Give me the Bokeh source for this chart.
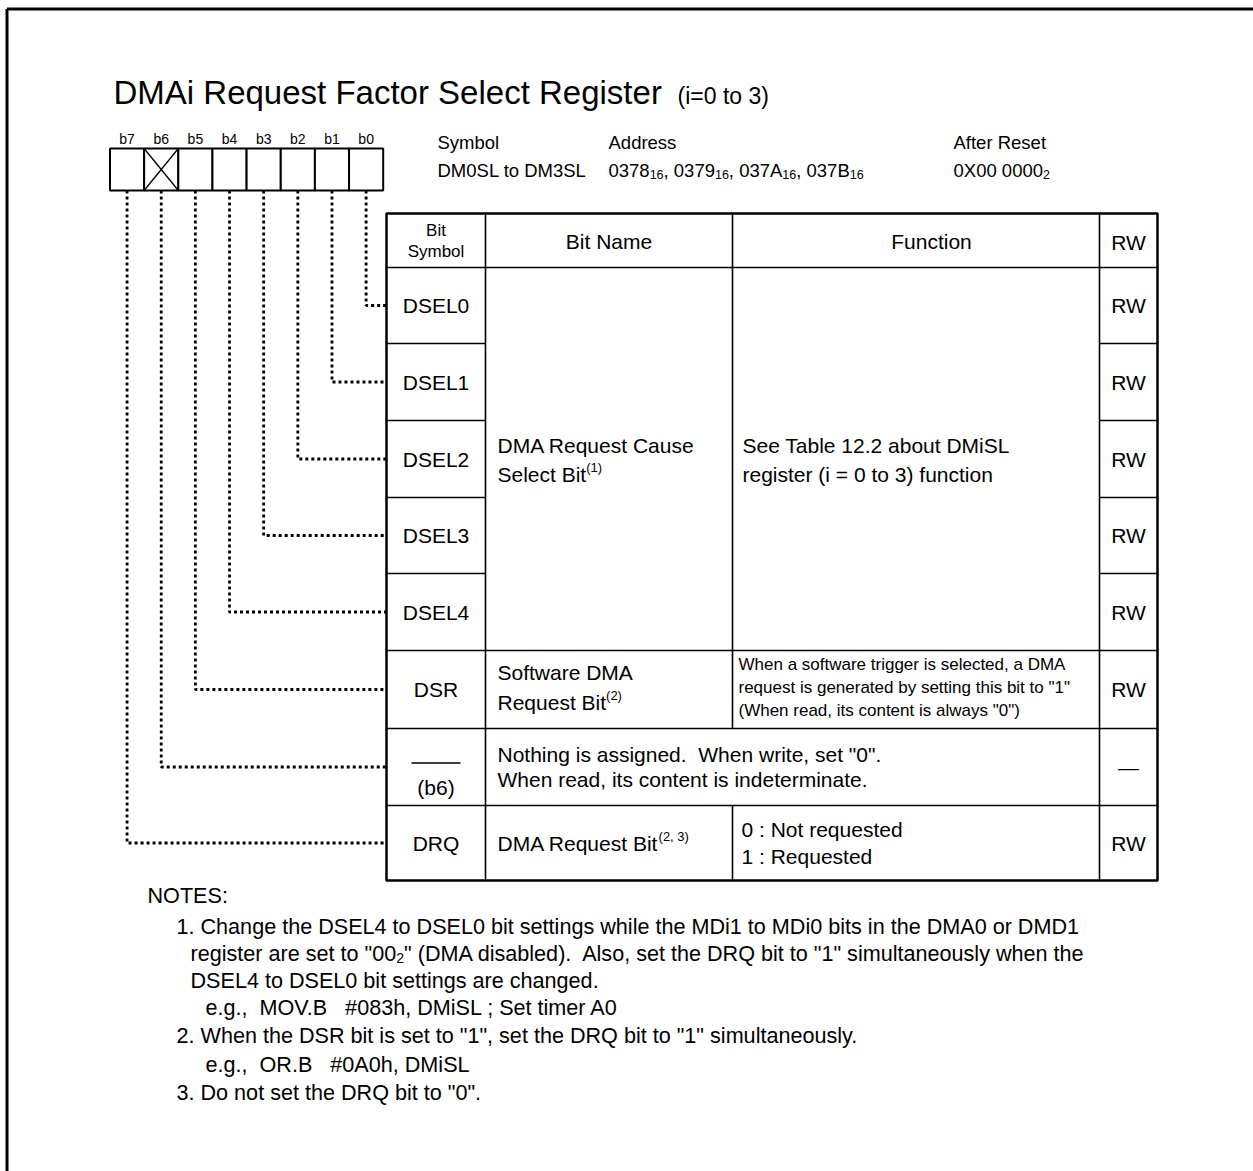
from bokeh.plotting import figure
from bokeh.models import ColumnDataSource, Range1d
from bokeh.core.properties import value
from bokeh.embed import file_html
from bokeh.resources import INLINE

FONT = "Liberation Sans"
W, H = 1253, 1171
NB = "\u00a0"

# ---------------- data ----------------
title = "DMAi Request Factor Select Register"
title_suffix = "(i=0 to 3)"
bit_labels = ["b7", "b6", "b5", "b4", "b3", "b2", "b1", "b0"]
reserved_bits = ["b6"]
info_headers = ["Symbol", "Address", "After Reset"]
register_symbol = "DM0SL to DM3SL"
addresses = ["0378", "0379", "037A", "037B"]
address_radix = "16"
reset_value = "0X00 0000"
reset_radix = "2"

col_headers = ["Bit Name", "Function", "RW"]
bit_symbols = ["DSEL0", "DSEL1", "DSEL2", "DSEL3", "DSEL4", "DSR", "(b6)", "DRQ"]
source_bits = ["b0", "b1", "b2", "b3", "b4", "b5", "b6", "b7"]
rw_values = ["RW", "RW", "RW", "RW", "RW", "RW", "\u2014", "RW"]

dsel_name = ["DMA Request Cause", "Select Bit"]
dsel_name_note = "(1)"
dsel_function = ["See Table 12.2 about DMiSL", "register (i = 0 to 3) function"]
dsr_name = ["Software DMA", "Request Bit"]
dsr_name_note = "(2)"
dsr_function = ["When a software trigger is selected, a DMA",
                "request is generated by setting this bit to \"1\"",
                "(When read, its content is always \"0\")"]
b6_text = ["Nothing is assigned." + NB + " When write, set \"0\".",
           "When read, its content is indeterminate."]
drq_name = "DMA Request Bit"
drq_name_note = "(2, 3)"
drq_function = ["0 : Not requested", "1 : Requested"]

notes_title = "NOTES:"
note1 = ["1. Change the DSEL4 to DSEL0 bit settings while the MDi1 to MDi0 bits in the DMA0 or DMD1",
         ("register are set to \"00", "2", "\" (DMA disabled)." + NB + " Also, set the DRQ bit to \"1\" simultaneously when the"),
         "DSEL4 to DSEL0 bit settings are changed.",
         "e.g.," + NB + " MOV.B" + NB * 2 + " #083h, DMiSL ; Set timer A0"]
note2 = ["2. When the DSR bit is set to \"1\", set the DRQ bit to \"1\" simultaneously.",
         "e.g.," + NB + " OR.B" + NB * 2 + " #0A0h, DMiSL"]
note3 = ["3. Do not set the DRQ bit to \"0\"."]

# ---------------- layout ----------------
box_left, box_w, box_top, box_bot = 109.5, 34.15, 148, 190
col_edges = [386, 485, 732, 1099, 1157]
table_top, header_bot = 213, 267
row_heights = [76, 77, 77, 76, 77, 78, 77, 75]

AW = {' ': 278, NB: 278, '!': 278, '"': 355, '#': 556, '(': 333, ')': 333, ',': 278, '-': 333, '.': 278,
      ':': 278, ';': 278, '=': 584, '\u2014': 1000,
      'A': 667, 'B': 667, 'C': 722, 'D': 722, 'E': 667, 'F': 611, 'G': 778, 'H': 722, 'I': 278,
      'J': 500, 'K': 667, 'L': 556, 'M': 833, 'N': 722, 'O': 778, 'P': 667, 'Q': 778, 'R': 722,
      'S': 667, 'T': 611, 'U': 722, 'V': 667, 'W': 944, 'X': 667, 'Y': 667, 'Z': 611,
      'a': 556, 'b': 556, 'c': 500, 'd': 556, 'e': 556, 'f': 278, 'g': 556, 'h': 556, 'i': 222,
      'j': 222, 'k': 500, 'l': 222, 'm': 833, 'n': 556, 'o': 556, 'p': 556, 'q': 556, 'r': 333,
      's': 500, 't': 278, 'u': 556, 'v': 500, 'w': 722, 'x': 500, 'y': 500, 'z': 500}
for d in "0123456789":
    AW[d] = 556


def tw(s, size):
    return sum(AW.get(c, 556) for c in s) * size / 1000.0


left_t = dict(x=[], y=[], text=[], size=[])
center_t = dict(x=[], y=[], text=[], size=[])


def put(x, y, text, size, align="left"):
    t = left_t if align == "left" else center_t
    t["x"].append(x)
    t["y"].append(y)
    t["text"].append(text)
    t["size"].append(f"{size}px")


def put_runs(x, y, parts, align="left"):
    total = sum(tw(s, sz) for s, sz, dy in parts)
    if align == "center":
        x -= total / 2
    for s, sz, dy in parts:
        put(x, y + dy, s, sz)
        x += tw(s, sz)


p = figure(width=W, height=H, x_range=Range1d(0, W), y_range=Range1d(H, 0),
           output_backend="svg", toolbar_location=None, min_border=0,
           x_axis_type=None, y_axis_type=None, outline_line_color=None)
p.grid.visible = False
p.background_fill_color = "white"
p.border_fill_color = "white"

# outer frame (top and left edges visible)
p.multi_line(xs=[[6.5, W + 5], [6.5, 6.5]], ys=[[8.5, 8.5], [8.5, H + 5]], line_color="black", line_width=3)

# title
put(113, 92, title, 33)
put(677, 92 + 0.35 * (33 - 23), title_suffix, 23)

# bit boxes
n = len(bit_labels)
lefts = [box_left + i * box_w for i in range(n)]
rights = [l + box_w for l in lefts]
centers = [l + box_w / 2 for l in lefts]
p.quad(left=lefts, right=rights, top=[box_top] * n, bottom=[box_bot] * n,
       fill_color="white", line_color="black", line_width=2)
for b in reserved_bits:
    i = bit_labels.index(b)
    p.segment(x0=[lefts[i], lefts[i]], y0=[box_top, box_bot], x1=[rights[i], rights[i]], y1=[box_bot, box_top],
              line_color="black", line_width=1.3)
for i, b in enumerate(bit_labels):
    put(centers[i], 138, b, 14, "center")

# info header
info_x = [437, 608, 953]
for x, s in zip(info_x, info_headers):
    put(x, 142, s, 18.5)
put(info_x[0], 170, register_symbol, 18.5)
parts = []
for k, a in enumerate(addresses):
    parts.append((a, 18.5, 0))
    parts.append((address_radix, 12.5, 3.5))
    if k < len(addresses) - 1:
        parts.append((", ", 18.5, 0))
put_runs(info_x[1], 170, parts)
put_runs(info_x[2], 170, [(reset_value, 18.5, 0), (reset_radix, 12.5, 3.5)])

# table geometry
row_edges = [header_bot]
for h in row_heights:
    row_edges.append(row_edges[-1] + h)
row_centers = [(row_edges[i] + row_edges[i + 1]) / 2 for i in range(len(row_heights))]
x0, x1, x2, x3, x4 = col_edges
table_bot = row_edges[-1]

p.quad(left=[x0], right=[x4], top=[table_top], bottom=[table_bot], fill_color=None,
       line_color="black", line_width=2.5)
sx0, sy0, sx1, sy1 = [], [], [], []


def seg(a, b, c, d):
    sx0.append(a); sy0.append(b); sx1.append(c); sy1.append(d)


seg(x0, header_bot, x4, header_bot)
for i in range(1, 5):  # boundaries between DSEL rows (merged name/function)
    y = row_edges[i]
    seg(x0, y, x1, y)
    seg(x3, y, x4, y)
for i in range(5, 8):
    seg(x0, row_edges[i], x4, row_edges[i])
seg(x1, table_top, x1, table_bot)
seg(x2, table_top, x2, row_edges[6])
seg(x2, row_edges[7], x2, table_bot)
seg(x3, table_top, x3, table_bot)
p.segment(x0=sx0, y0=sy0, x1=sx1, y1=sy1, line_color="black", line_width=1.6)

# header texts
sym_cx = (x0 + x1) / 2
put(sym_cx, 230, "Bit", 17, "center")
put(sym_cx, 251, "Symbol", 17, "center")
put((x1 + x2) / 2, 241, col_headers[0], 21, "center")
put(931, 241, col_headers[1], 21, "center")
put((x3 + x4) / 2, 242, col_headers[2], 21, "center")

# symbol column and RW column
for i, s in enumerate(bit_symbols):
    yc = row_centers[i]
    if s.startswith("(b"):
        p.segment(x0=[411], y0=[yc - 4], x1=[460], y1=[yc - 4], line_color="black", line_width=1.3)
        put(sym_cx, yc + 20, s, 21, "center")
    else:
        put(sym_cx, yc, s, 21, "center")
    put((x3 + x4) / 2, yc, rw_values[i], 21, "center")

# connectors from bit boxes to rows
cxs, cys = [], []
for i, b in enumerate(source_bits):
    cx = centers[bit_labels.index(b)]
    yc = row_centers[i]
    cxs.append([cx, cx, x0])
    cys.append([box_bot, yc, yc])
p.multi_line(xs=cxs, ys=cys, line_color="black", line_width=2.8, line_dash="3 3")

# merged DSEL cells
mid = (row_edges[0] + row_edges[5]) / 2
put(497, mid - 14, dsel_name[0], 21)
put_runs(497, mid + 15, [(dsel_name[1], 21, 0), (dsel_name_note, 13, -7)])
put(742, mid - 14, dsel_function[0], 21)
put(742, mid + 15, dsel_function[1], 21)

# DSR row
yc = row_centers[5]
put(497, yc - 17, dsr_name[0], 21)
put_runs(497, yc + 13, [(dsr_name[1], 21, 0), (dsr_name_note, 13, -7)])
for k, s in enumerate(dsr_function):
    put(738, yc - 25 + 23 * k, s, 17)

# b6 row
yc = row_centers[6]
put(497, yc - 13, b6_text[0], 21)
put(497, yc + 12, b6_text[1], 21)

# DRQ row
yc = row_centers[7]
put_runs(497, yc, [(drq_name, 21, 0), (drq_name_note, 13, -7)])
put(741, yc - 14, drq_function[0], 21)
put(741, yc + 13, drq_function[1], 21)

# notes
NS = 21.6
put(147, 895, notes_title, NS)
put(176, 926, note1[0], NS)
a, sub, b = note1[1]
put_runs(190, 953, [(a, NS, 0), (sub, 14, 4), (b, NS, 0)])
put(190, 980, note1[2], NS)
put(205, 1007, note1[3], NS)
put(176, 1035, note2[0], NS)
put(205, 1064, note2[1], NS)
put(176, 1092, note3[0], NS)

src_l = ColumnDataSource(left_t)
src_c = ColumnDataSource(center_t)
p.text(x="x", y="y", text="text", text_font_size="size", source=src_l, text_font=value(FONT),
       text_align="left", text_baseline="middle", text_color="black")
p.text(x="x", y="y", text="text", text_font_size="size", source=src_c, text_font=value(FONT),
       text_align="center", text_baseline="middle", text_color="black")

open("out.html", "w").write(file_html(p, INLINE))
